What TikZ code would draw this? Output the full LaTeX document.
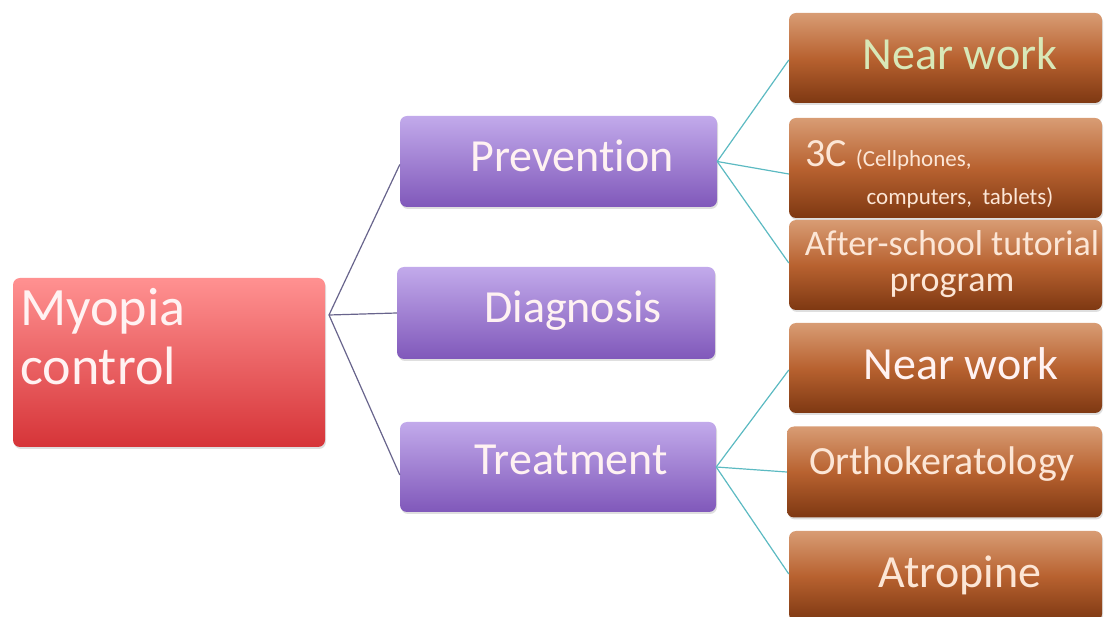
\documentclass[tikz,border=0pt]{standalone}
\usepackage{fontspec}
\setmainfont{Carlito}[Ligatures=NoCommon]
\usetikzlibrary{shadows,calc}
\definecolor{redtop}{RGB}{255,145,145}
\definecolor{redbot}{RGB}{214,52,56}
\definecolor{purtop}{RGB}{194,170,235}
\definecolor{purbot}{RGB}{128,88,186}
\definecolor{brtop}{RGB}{216,156,116}
\definecolor{brmid}{RGB}{184,98,48}
\definecolor{brbot}{RGB}{126,56,18}
\definecolor{leftline}{RGB}{104,100,140}
\definecolor{rightline}{RGB}{92,186,194}
\definecolor{txtpale}{RGB}{255,242,242}
\definecolor{txtbrown}{RGB}{252,230,214}
\definecolor{txtgreen}{RGB}{216,232,184}
\tikzset{
  box/.style={rounded corners=7pt, inner sep=0pt,
    drop shadow={opacity=0.25, shadow xshift=1pt, shadow yshift=-2pt}},
  redbox/.style={box, top color=redtop, bottom color=redbot},
  purbox/.style={box, top color=purtop, bottom color=purbot},
  brbox/.style={box, top color=brtop, bottom color=brbot, middle color=brmid},
  lconn/.style={draw=leftline, line width=1.2pt},
  rconn/.style={draw=rightline, line width=1.2pt},
  lbl/.style={inner sep=0pt, text=txtpale},
  blbl/.style={inner sep=0pt, text=txtbrown}
}
\begin{document}
\begin{tikzpicture}[x=1pt,y=-1pt]
\useasboundingbox (0,0) rectangle (1104,617);
% boxes
\node[redbox, minimum width=312pt, minimum height=169pt] (root) at (169,362.5) {};
\node[purbox, minimum width=317pt, minimum height=91pt] (prev) at (558.5,161.5) {};
\node[purbox, minimum width=318pt, minimum height=92pt] (diag) at (556,313) {};
\node[purbox, minimum width=316pt, minimum height=90pt] (treat) at (558,467) {};
\node[brbox, minimum width=313pt, minimum height=90pt] (nw1) at (945.5,58) {};
\node[brbox, minimum width=313pt, minimum height=100pt] (c3) at (945.5,168) {};
\node[brbox, minimum width=313pt, minimum height=90pt] (after) at (945.5,265) {};
\node[brbox, minimum width=313pt, minimum height=90pt] (nw2) at (945.5,368) {};
\node[brbox, minimum width=315pt, minimum height=91pt] (ortho) at (944.5,472) {};
\node[brbox, minimum width=313pt, minimum height=90pt] (atro) at (945.5,576) {};
% connectors
\coordinate (rootc) at (329,315);
\draw[lconn] (rootc) -- ([yshift=-3pt]prev.west);
\draw[lconn] (rootc) -- (diag.west);
\draw[lconn] (rootc) -- ([yshift=-8pt]treat.west);
\draw[rconn] (prev.east) -- ([yshift=-2pt]nw1.west);
\draw[rconn] (prev.east) -- ([yshift=-6pt]c3.west);
\draw[rconn] (prev.east) -- ([yshift=2pt]after.west);
\draw[rconn] (treat.east) -- ([yshift=-2pt]nw2.west);
\draw[rconn] (treat.east) -- (ortho.west);
\draw[rconn] (treat.east) -- ([yshift=2pt]atro.west);
% texts
\node[lbl, anchor=base west, font=\fontsize{54}{58}\selectfont] (t1) at (20,326) {Myopia};
\node[lbl, anchor=base west, font=\fontsize{54}{58}\selectfont] (t2) at (20,385) {control};
\node[lbl, anchor=base, font=\fontsize{46}{50}\selectfont] (t3) at (572,172) {Prevention};
\node[lbl, anchor=base, font=\fontsize{46}{50}\selectfont] (t4) at (573,323) {Diagnosis};
\node[lbl, anchor=base, font=\fontsize{46}{50}\selectfont] (t5) at (571,475) {Treatment};
\node[inner sep=0pt, text=txtgreen, anchor=base, font=\fontsize{46}{50}\selectfont] (t6) at (960,70) {Near work};
\node[blbl, anchor=base west] (t7) at (805,167) {\fontsize{40}{44}\selectfont 3C {\fontsize{23}{26}\selectfont (Cellphones,}};
\node[blbl, anchor=base, font=\fontsize{23}{26}\selectfont] (t8) at (960,205) {computers,\ \ tablets)};
\node[blbl, anchor=base, align=center, font=\fontsize{36}{36}\selectfont] (t9) at (952,292) {After-school tutorial\\program};
\node[lbl, anchor=base, font=\fontsize{46}{50}\selectfont] (t11) at (961,380) {Near work};
\node[blbl, anchor=base, font=\fontsize{40}{44}\selectfont] (t12) at (942,475) {Orthokeratology};
\node[blbl, anchor=base, font=\fontsize{46}{50}\selectfont] (t13) at (960,587) {Atropine};
\end{tikzpicture}
\end{document}
